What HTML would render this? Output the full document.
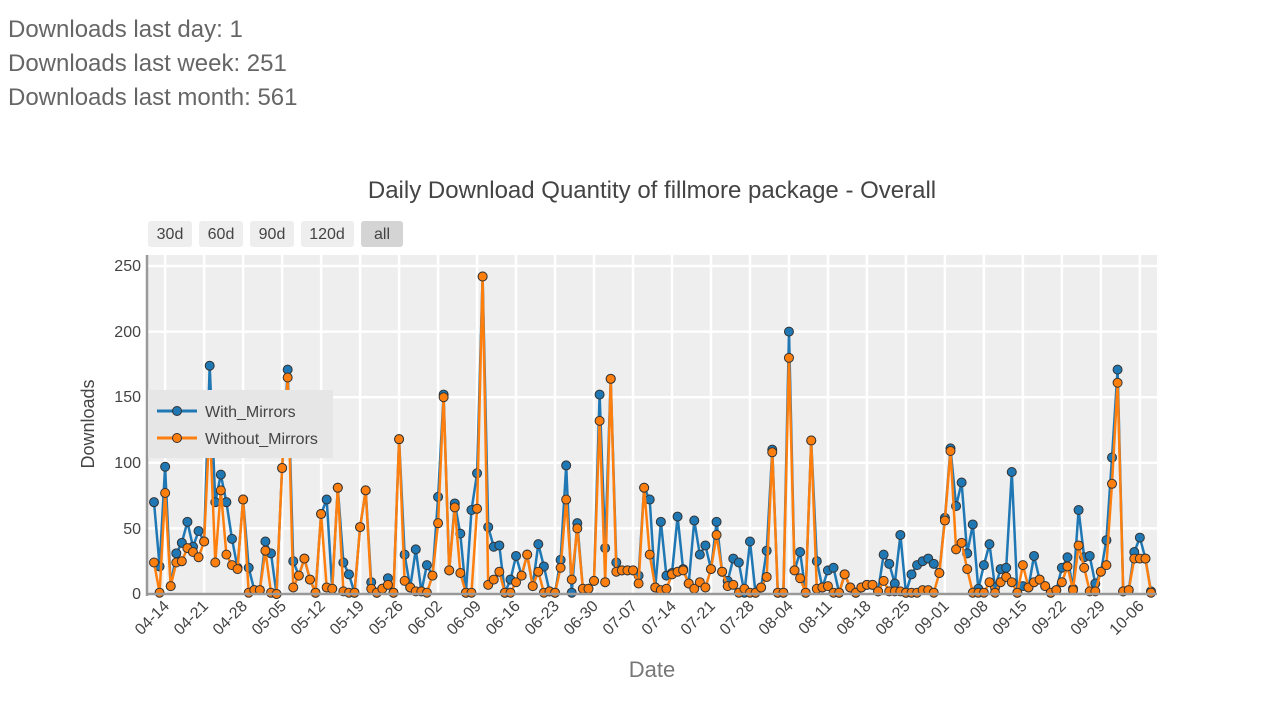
<!DOCTYPE html>
<html><head><meta charset="utf-8"><style>
body{margin:0;width:1280px;height:723px;background:#fff;overflow:hidden;font-family:"Liberation Sans",sans-serif;}
.t{position:absolute;left:8px;font-size:24px;color:#666;}
</style></head><body>
<div class="t" style="top:16px">Downloads last day: 1</div>
<div class="t" style="top:50px">Downloads last week: 251</div>
<div class="t" style="top:84px">Downloads last month: 561</div>
<svg id="s" width="1280" height="723" style="position:absolute;left:0;top:0" font-family="Liberation Sans, sans-serif">
<text x="652" y="198" text-anchor="middle" font-size="24" fill="#444">Daily Download Quantity of fillmore package - Overall</text>
<g font-size="16" fill="#444" text-anchor="middle">
<rect x="148" y="221" width="44" height="26" rx="3" fill="#eee"/><text x="170" y="239">30d</text>
<rect x="199" y="221" width="44" height="26" rx="3" fill="#eee"/><text x="221" y="239">60d</text>
<rect x="250" y="221" width="44" height="26" rx="3" fill="#eee"/><text x="272" y="239">90d</text>
<rect x="301" y="221" width="53" height="26" rx="3" fill="#eee"/><text x="327" y="239">120d</text>
<rect x="361" y="221" width="42" height="26" rx="3" fill="#d4d4d4"/><text x="382" y="239">all</text>
</g>
<rect x="148" y="255" width="1009" height="339" fill="#eeeeee"/>
<g id="grid" stroke="#fff" stroke-width="2.5"></g>
<g font-size="16" fill="#444" text-anchor="end">
<text x="141" y="599">0</text><text x="141" y="534">50</text><text x="141" y="468">100</text>
<text x="141" y="402">150</text><text x="141" y="337">200</text><text x="141" y="271">250</text>
</g>
<g id="xl" font-size="16" fill="#444" text-anchor="end"></g>
<text transform="translate(94,424) rotate(-90)" text-anchor="middle" font-size="18" fill="#444">Downloads</text>
<text x="652" y="677" text-anchor="middle" font-size="22" fill="#777">Date</text>
<g id="data"></g>
<line x1="147" y1="594" x2="1157" y2="594" stroke="#999" stroke-width="2.5"/>
<line x1="147" y1="255" x2="147" y2="596" stroke="#999" stroke-width="2.5"/>
<rect x="148" y="390" width="185" height="68" fill="#e6e6e6"/>
<line x1="157" y1="411" x2="197" y2="411" stroke="#1f77b4" stroke-width="3"/>
<circle cx="177" cy="411" r="4.5" fill="#1f77b4" stroke="#333" stroke-width="1"/>
<line x1="157" y1="438" x2="197" y2="438" stroke="#ff7f0e" stroke-width="3"/>
<circle cx="177" cy="438" r="4.5" fill="#ff7f0e" stroke="#333" stroke-width="1"/>
<text x="205" y="417" font-size="16" fill="#444">With_Mirrors</text>
<text x="205" y="444" font-size="16" fill="#444">Without_Mirrors</text>
</svg>
<script>
var W=[70,21,97,6,31,39,55,36,48,40,174,70,91,70,42,20,72,20,3,3,40,31,0,96,171,25,14,27,11,1,61,72,4,81,24,15,1,51,79,9,1,4,12,1,118,30,5,34,2,22,14,74,152,18,69,46,1,64,92,242,51,
36,37,1,11,29,14,30,6,38,21,2,1,26,98,1,54,4,4,10,152,35,164,24,18,18,18,14,81,72,5,55,14,16,59,19,8,56,30,37,19,55,17,10,27,24,1,40,1,5,33,110,1,1,200,18,32,1,117,25,5,18,20,1,15,
5,1,5,7,7,2,30,23,8,45,1,15,22,25,27,23,16,58,111,67,85,31,53,4,22,38,5,19,20,93,1,6,5,29,11,6,1,3,20,28,4,64,28,29,8,17,41,104,171,2,3,32,43,27,2];
var O=[24,1,77,6,24,25,35,32,28,40,130,24,79,30,22,19,72,1,3,3,33,1,0,96,165,5,14,27,11,1,61,5,4,81,2,1,1,51,79,4,1,4,7,1,118,10,5,2,2,1,14,54,150,18,66,16,1,1,65,242,7,
11,17,1,1,9,14,30,6,17,1,2,1,20,72,11,50,4,4,10,132,9,164,17,18,18,18,8,81,30,5,3,4,15,17,18,8,4,9,5,19,45,17,6,7,1,4,1,1,5,13,108,1,1,180,18,12,1,117,4,5,6,1,1,15,
5,1,5,7,7,2,10,2,2,2,1,1,1,3,3,1,16,56,109,34,39,19,1,1,1,9,1,9,13,9,1,22,5,9,11,6,1,3,9,21,3,37,20,2,2,17,22,84,161,2,3,27,27,27,1];
var N=W.length,st=997/(N-1);
function X(i){return 154+i*st}function Y(v){return 594-v*1.312}
var ns="http://www.w3.org/2000/svg";
function el(p,t,a){var e=document.createElementNS(ns,t);for(var k in a)e.setAttribute(k,a[k]);p.appendChild(e);return e;}
var g=document.getElementById('grid');
[50,100,150,200,250].forEach(function(v){el(g,'line',{x1:148,x2:1157,y1:Y(v),y2:Y(v)});});
var labs=["04-14","04-21","04-28","05-05","05-12","05-19","05-26","06-02","06-09","06-16","06-23","06-30","07-07","07-14","07-21","07-28","08-04","08-11","08-18","08-25","09-01","09-08","09-15","09-22","09-29","10-06"];
var xl=document.getElementById('xl');
labs.forEach(function(l,k){var x=X(2+7*k);el(g,'line',{x1:x,x2:x,y1:255,y2:594});
var t=el(xl,'text',{transform:'translate('+(x+5)+',607) rotate(-45)'});t.textContent=l;});
var d=document.getElementById('data');
function series(a,c){var p='';a.forEach(function(v,i){p+=(i?'L':'M')+X(i).toFixed(1)+','+Y(v).toFixed(1);});
el(d,'path',{d:p,fill:'none',stroke:c,'stroke-width':2.5,'stroke-linejoin':'round'});
a.forEach(function(v,i){el(d,'circle',{cx:X(i),cy:Y(v),r:4.5,fill:c,stroke:'#333','stroke-width':1});});}
series(W,'#1f77b4');series(O,'#ff7f0e');
</script>
</body></html>
